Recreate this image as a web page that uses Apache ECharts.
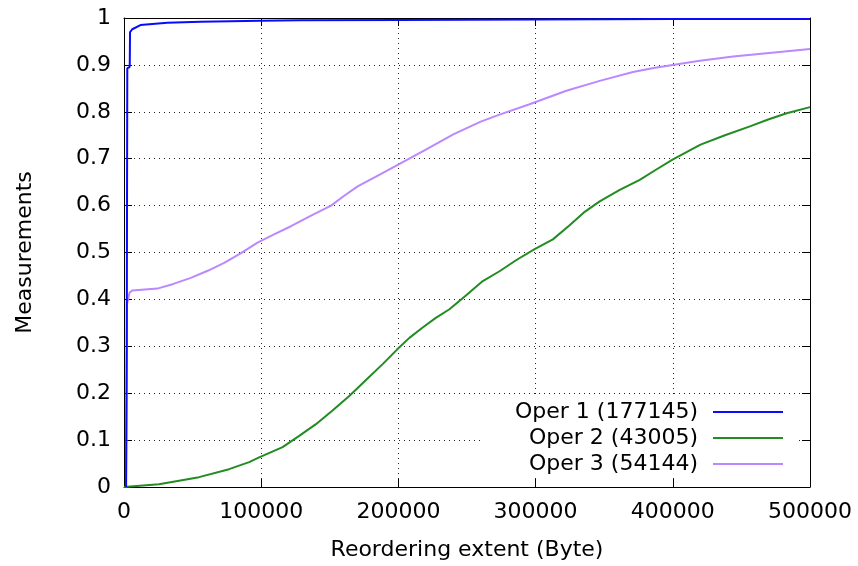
<!DOCTYPE html>
<html>
<head>
<meta charset="utf-8">
<script src="https://cdn.jsdelivr.net/npm/echarts@6/dist/echarts.min.js"></script>
<style>
html,body{margin:0;padding:0;background:#fff;}
#chart{width:858px;height:566px;}
</style>
</head>
<body>
<div id="chart"></div>
<script>
const seriesNames = ['Oper 1 (177145)', 'Oper 2 (43005)', 'Oper 3 (54144)'];
const xTicks = [0, 100000, 200000, 300000, 400000, 500000];

const oper1X = [1500, 2000, 2200, 2400, 4000, 4200, 4400, 6000, 12000, 31500, 55700, 99400, 128500, 200000, 300000, 400000, 500000];
const oper1Y = [0, 0.3, 0.6, 0.893, 0.895, 0.9, 0.97, 0.976, 0.985, 0.990, 0.992, 0.994, 0.995, 0.996, 0.997, 0.998, 0.998];

const oper2X = [0, 25500, 54700, 76600, 91200, 98500, 115600, 127700, 139900, 152000, 164200, 176000, 188500, 199000, 208000, 217700, 227000, 237200, 249000, 261500, 273700, 286000, 299300, 312600, 324800, 335000, 346700, 361000, 375900, 388000, 399800, 420200, 438000, 456200, 470000, 483000, 500000];
const oper2Y = [0, 0.006, 0.021, 0.038, 0.053, 0.063, 0.085, 0.109, 0.134, 0.163, 0.194, 0.227, 0.262, 0.293, 0.318, 0.340, 0.360, 0.379, 0.408, 0.439, 0.460, 0.484, 0.507, 0.528, 0.558, 0.585, 0.609, 0.633, 0.655, 0.677, 0.698, 0.730, 0.750, 0.769, 0.784, 0.797, 0.810];

const oper3X = [1500, 2000, 2200, 3000, 4000, 6000, 24300, 36000, 48700, 61000, 73000, 85000, 97300, 109000, 121700, 136000, 150900, 160000, 170300, 185000, 199500, 219000, 240000, 260000, 273700, 295600, 322400, 346700, 371000, 385000, 399800, 419700, 444000, 468400, 500000];
const oper3Y = [0, 0.2, 0.39, 0.40, 0.414, 0.419, 0.423, 0.433, 0.446, 0.461, 0.478, 0.498, 0.521, 0.538, 0.556, 0.578, 0.600, 0.620, 0.641, 0.664, 0.687, 0.718, 0.752, 0.779, 0.794, 0.816, 0.845, 0.866, 0.885, 0.893, 0.900, 0.909, 0.918, 0.925, 0.934];

const colors = ['#0a0aff', '#228b22', '#bb88ff'];
const FONT = 'DejaVu Sans';
const FS = 22;

function pairs(xs, ys) { return xs.map((x, i) => [x, ys[i]]); }

const chart = echarts.init(document.getElementById('chart'), null, {renderer: 'canvas'});
const axisLineStyle = {color: '#000', width: 1};
const gridLine = {show: true, lineStyle: {color: '#222', width: 1, type: [1, 4]}};

chart.setOption({
  animation: false,
  backgroundColor: '#fff',
  textStyle: {fontFamily: FONT},
  grid: {left: 124, right: 48, top: 18, bottom: 78, containLabel: false},
  xAxis: [{
    type: 'value', min: 0, max: 500000, interval: 100000,
    name: 'Reordering extent (Byte)', nameLocation: 'middle', nameGap: 52,
    nameTextStyle: {fontFamily: FONT, fontSize: FS, color: '#000'},
    axisLine: {show: true, onZero: false, lineStyle: axisLineStyle},
    axisTick: {show: true, inside: true, length: 8, lineStyle: {color: '#000'}},
    axisLabel: {show: true, margin: 14, fontFamily: FONT, fontSize: FS, color: '#000',
      formatter: v => String(v)},
    splitLine: gridLine
  }, {
    type: 'value', position: 'top', min: 0, max: 500000, interval: 100000,
    axisLine: {show: true, onZero: false, lineStyle: axisLineStyle},
    axisTick: {show: true, inside: true, length: 8, lineStyle: {color: '#000'}},
    axisLabel: {show: false}, splitLine: {show: false}
  }],
  yAxis: [{
    type: 'value', min: 0, max: 1, interval: 0.1,
    name: 'Measurements', nameLocation: 'middle', nameGap: 88, nameRotate: 90,
    nameTextStyle: {fontFamily: FONT, fontSize: FS, color: '#000'},
    axisLine: {show: true, onZero: false, lineStyle: axisLineStyle},
    axisTick: {show: true, inside: true, length: 8, lineStyle: {color: '#000'}},
    axisLabel: {show: true, margin: 13, fontFamily: FONT, fontSize: FS, color: '#000',
      formatter: v => String(Math.round(v * 10) / 10)},
    splitLine: gridLine
  }, {
    type: 'value', position: 'right', min: 0, max: 1, interval: 0.1,
    axisLine: {show: true, onZero: false, lineStyle: axisLineStyle},
    axisTick: {show: true, inside: true, length: 8, lineStyle: {color: '#000'}},
    axisLabel: {show: false}, splitLine: {show: false}
  }],
  legend: {
    orient: 'vertical', align: 'right',
    right: 61, top: 398,
    padding: [1, 14, 1, 32],
    backgroundColor: '#fff',
    itemGap: 0, itemWidth: 70, itemHeight: 14,
    textStyle: {fontFamily: FONT, fontSize: FS, color: '#000', lineHeight: 26, padding: [0, 10, 0, 0]},
    data: seriesNames.map(n => ({name: n, icon: 'path://M0,6 L70,6 L70,8 L0,8 Z'}))
  },
  series: [
    {name: seriesNames[0], type: 'line', data: pairs(oper1X, oper1Y), symbol: 'none', color: colors[0], lineStyle: {width: 2, color: colors[0]}, z: 3},
    {name: seriesNames[1], type: 'line', data: pairs(oper2X, oper2Y), symbol: 'none', color: colors[1], lineStyle: {width: 2, color: colors[1]}, z: 2},
    {name: seriesNames[2], type: 'line', data: pairs(oper3X, oper3Y), symbol: 'none', color: colors[2], lineStyle: {width: 2, color: colors[2]}, z: 2}
  ]
});
</script>
</body>
</html>
